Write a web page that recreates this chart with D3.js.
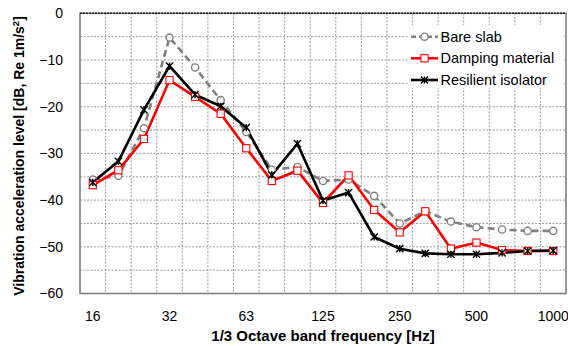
<!DOCTYPE html>
<html><head><meta charset="utf-8">
<script src="https://cdn.jsdelivr.net/npm/d3@7/dist/d3.min.js"></script>
<style>
html,body{margin:0;padding:0;background:#fff;}
svg{display:block;font-family:"Liberation Sans",Arial,sans-serif;}
</style></head>
<body>
<svg id="chart" width="568" height="347"></svg>
<script>
const bands = ["16","20","25","31.5","40","50","63","80","100","125","160","200","250","315","400","500","630","800","1000"];
const tickBands = ["16","31.5","63","125","250","500","1000"];
const tickText = {"16":"16","31.5":"32","63":"63","125":"125","250":"250","500":"500","1000":"1000"};
const yTicks = [0,-10,-20,-30,-40,-50,-60];
const bareSlab = [-35.6,-34.8,-24.6,-5.2,-11.6,-18.6,-25.4,-33.5,-32.9,-35.9,-35.6,-39.1,-45.0,-42.4,-44.6,-45.8,-46.3,-46.6,-46.6];
const damping = [-36.8,-33.6,-26.9,-14.3,-17.9,-21.5,-28.9,-35.9,-33.7,-40.6,-34.7,-42.1,-46.9,-42.4,-50.4,-49.1,-50.7,-50.9,-50.9];
const resilient = [-36.2,-31.7,-20.7,-11.3,-17.4,-19.9,-24.5,-34.6,-27.9,-40.1,-38.4,-47.9,-50.4,-51.4,-51.6,-51.6,-51.3,-50.9,-50.8];
const seriesNames = ["Bare slab","Damping material","Resilient isolator"];

const svg = d3.select("#chart");
const L = 80, R = 566, T = 13.3, B = 293.5;
const x = d3.scaleBand().domain(bands).range([L, R]).paddingInner(0).paddingOuter(0);
const y = d3.scaleLinear().domain([-60, 0]).range([B, T]);
const cx = d => x(d) + x.bandwidth() / 2;

// grid
const g = svg.append("g");
for (let i = 1; i < bands.length; i++) {
  const gx = x(bands[i]);
  g.append("line").attr("x1", gx).attr("x2", gx).attr("y1", T).attr("y2", B)
    .attr("stroke", "#9a9a9a").attr("stroke-width", 1).attr("stroke-dasharray", "2,1.5");
}
for (let v = -55; v < 0; v += 5) {
  g.append("line").attr("x1", L).attr("x2", R).attr("y1", y(v)).attr("y2", y(v))
    .attr("stroke", "#9a9a9a").attr("stroke-width", 1).attr("stroke-dasharray", "2,1.5");
}
// frame
svg.append("rect").attr("x", L).attr("y", T).attr("width", R - L).attr("height", B - T)
  .attr("fill", "none").attr("stroke", "#808080").attr("stroke-width", 1.6);
svg.append("line").attr("x1", L).attr("x2", R).attr("y1", T).attr("y2", T)
  .attr("stroke", "#222").attr("stroke-width", 1.4).attr("stroke-dasharray", "2,1");

// y axis labels
const yAxis = d3.axisLeft(y).tickValues(yTicks).tickSize(0).tickPadding(17).tickFormat(d3.format("d"));
const ya = svg.append("g").attr("transform", `translate(${L},0)`).call(yAxis);
ya.select(".domain").remove();
ya.selectAll("text").attr("font-size", 14).attr("fill", "#000").attr("font-family", "Liberation Sans, Arial, sans-serif");

// x axis labels
const xAxis = d3.axisBottom(x).tickValues(tickBands).tickSize(0).tickPadding(18).tickFormat(d => tickText[d]);
const xa = svg.append("g").attr("transform", `translate(0,${B})`).call(xAxis);
xa.select(".domain").remove();
xa.selectAll("text").attr("font-size", 14).attr("fill", "#000").attr("font-family", "Liberation Sans, Arial, sans-serif");

// titles
svg.append("text").attr("x", (L + R) / 2).attr("y", 340.5).attr("text-anchor", "middle")
  .attr("font-size", 15).attr("font-weight", "bold").text("1/3 Octave band frequency [Hz]");
const yt = svg.append("text").attr("transform", "translate(24,156) rotate(-90)").attr("text-anchor", "middle")
  .attr("font-size", 14).attr("font-weight", "bold");
yt.append("tspan").text("Vibration acceleration level [dB, Re 1m/s");
yt.append("tspan").attr("font-size", 9.5).attr("dy", -5).text("2");
yt.append("tspan").attr("dy", 5).text("]");

const line = d3.line().x((d, i) => cx(bands[i])).y(d => y(d));

// bare slab
svg.append("path").datum(bareSlab).attr("d", line).attr("fill", "none")
  .attr("stroke", "#808080").attr("stroke-width", 2.6).attr("stroke-dasharray", "7,4");
// damping
svg.append("path").datum(damping).attr("d", line).attr("fill", "none")
  .attr("stroke", "#ff0000").attr("stroke-width", 2.6);
// resilient
svg.append("path").datum(resilient).attr("d", line).attr("fill", "none")
  .attr("stroke", "#000").attr("stroke-width", 2.6);

function circleMarker(sel, px, py) {
  sel.append("circle").attr("cx", px).attr("cy", py).attr("r", 3.6)
    .attr("fill", "#fff").attr("stroke", "#808080").attr("stroke-width", 1.4);
}
function squareMarker(sel, px, py) {
  sel.append("rect").attr("x", px - 3.6).attr("y", py - 3.6).attr("width", 7.2).attr("height", 7.2)
    .attr("fill", "#fff").attr("stroke", "#ff0000").attr("stroke-width", 1.1);
}
function starMarker(sel, px, py) {
  const s = 3.6;
  const p = `M${px - s},${py - s}L${px + s},${py + s}M${px - s},${py + s}L${px + s},${py - s}M${px},${py - s}L${px},${py + s}`;
  sel.append("path").attr("d", p).attr("stroke", "#000").attr("stroke-width", 1.4).attr("fill", "none");
}
const mk = svg.append("g");
bareSlab.forEach((v, i) => circleMarker(mk, cx(bands[i]), y(v)));
damping.forEach((v, i) => squareMarker(mk, cx(bands[i]), y(v)));
resilient.forEach((v, i) => starMarker(mk, cx(bands[i]), y(v)));

// legend
const lg = svg.append("g");
lg.append("rect").attr("x", 408).attr("y", 25).attr("width", 156).attr("height", 63).attr("fill", "#fff");
const ly = [36.7, 58.3, 80];
const lstyles = [
  {stroke: "#808080", dash: "7,4", m: circleMarker},
  {stroke: "#ff0000", dash: null, m: squareMarker},
  {stroke: "#000", dash: null, m: starMarker}
];
seriesNames.forEach((n, i) => {
  const l = lg.append("line").attr("x1", 411).attr("x2", 438).attr("y1", ly[i]).attr("y2", ly[i])
    .attr("stroke", lstyles[i].stroke).attr("stroke-width", 2.6);
  if (lstyles[i].dash) l.attr("stroke-dasharray", "5,3");
  lstyles[i].m(lg, 424.5, ly[i]);
  lg.append("text").attr("x", 440.5).attr("y", ly[i] + 5).attr("font-size", 14.5).attr("fill", "#000").text(n);
});
</script>
</body></html>
